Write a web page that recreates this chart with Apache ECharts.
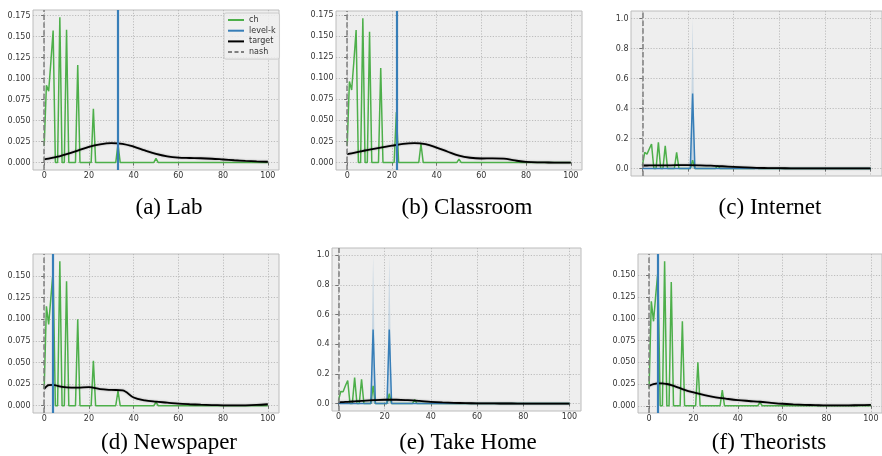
<!DOCTYPE html>
<html>
<head>
<meta charset="utf-8">
<script src="https://cdn.jsdelivr.net/npm/echarts@6/dist/echarts.min.js"></script>
<style>
  html, body { margin: 0; padding: 0; background: #ffffff; }
  #chart { width: 882px; height: 456px; }
</style>
</head>
<body>
<div id="chart"></div>
<script>
// Guesses 0..100; the cognitive-hierarchy (ch) prediction is non-zero only at these guesses
const chX = [0, 1, 2, 3, 4, 7, 10, 15, 22, 33, 50];
const chLab        = [0.020, 0.092, 0.085, 0.120, 0.157, 0.173, 0.158, 0.116, 0.064, 0.022, 0.005];
const chClassroom  = [0.020, 0.096, 0.086, 0.120, 0.157, 0.171, 0.155, 0.112, 0.060, 0.022, 0.004];
const chInternet   = [0.020, 0.107, 0.096, 0.130, 0.163, 0.174, 0.151, 0.107, 0.056, 0.018, 0.003];
const chNewspaper  = [0.020, 0.115, 0.094, 0.125, 0.156, 0.167, 0.144, 0.100, 0.052, 0.017, 0.004];
const chTakeHome   = [0.020, 0.082, 0.080, 0.120, 0.156, 0.176, 0.163, 0.120, 0.067, 0.027, 0.003];
const chTheorists  = [0.020, 0.120, 0.097, 0.127, 0.155, 0.166, 0.142, 0.097, 0.050, 0.018, 0.004];

// Smoothed density of the observed guesses (target)
const targetX = [0, 2, 4, 6, 8, 10, 15, 20, 25, 30, 35, 40, 45, 50, 55, 60, 65, 70, 75, 80, 85, 90, 95, 100];
const targetLab       = [0.0038, 0.0048, 0.0059, 0.0071, 0.0085, 0.0100, 0.0143, 0.0188, 0.0218, 0.0232, 0.0224, 0.0190, 0.0145, 0.0103, 0.0074, 0.0059, 0.0055, 0.0052, 0.0046, 0.0037, 0.0028, 0.0020, 0.0014, 0.0010];
const targetClassroom = [0.0099, 0.0110, 0.0121, 0.0132, 0.0143, 0.0153, 0.0177, 0.0200, 0.0222, 0.0230, 0.0218, 0.0178, 0.0128, 0.0082, 0.0057, 0.0048, 0.0050, 0.0046, 0.0025, 0.0008, 0.0002, 0.0001, 0.0000, 0.0000];
const targetInternet  = [0.0200, 0.0200, 0.0210, 0.0210, 0.0210, 0.0210, 0.0220, 0.0220, 0.0210, 0.0190, 0.0150, 0.0110, 0.0070, 0.0040, 0.0030, 0.0020, 0.0015, 0.0010, 0.0010, 0.0010, 0.0010, 0.0010, 0.0010, 0.0010];
const targetNewspaper = [0.0195, 0.0238, 0.0240, 0.0230, 0.0218, 0.0212, 0.0210, 0.0215, 0.0192, 0.0183, 0.0178, 0.0095, 0.0062, 0.0047, 0.0036, 0.0024, 0.0017, 0.0012, 0.0008, 0.0005, 0.0004, 0.0005, 0.0009, 0.0017];
const targetTakeHome  = [0.0080, 0.0100, 0.0120, 0.0140, 0.0160, 0.0180, 0.0230, 0.0260, 0.0260, 0.0230, 0.0180, 0.0120, 0.0080, 0.0050, 0.0030, 0.0020, 0.0010, 0.0007, 0.0005, 0.0003, 0.0002, 0.0001, 0.0001, 0.0001];
const targetTheorists = [0.0229, 0.0248, 0.0257, 0.0258, 0.0250, 0.0237, 0.0192, 0.0153, 0.0122, 0.0097, 0.0080, 0.0065, 0.0055, 0.0046, 0.0034, 0.0023, 0.0016, 0.0011, 0.0007, 0.0004, 0.0004, 0.0005, 0.0007, 0.0010];

// Level-k prediction: a single guess, or spikes (mean and upper bound of the band)
const levelkLab = 33;
const levelkClassroom = 22;
const levelkNewspaper = 4;
const levelkTheorists = 4;
const levelkInternetX = [22];
const levelkInternetMean = [0.5];
const levelkInternetUpper = [1.0];
const levelkTakeHomeX = [15, 22];
const levelkTakeHomeMean = [0.5, 0.5];
const levelkTakeHomeUpper = [1.0, 1.0];

// Nash equilibrium guess
const nashGuess = 0;

// Tick labels
const xTicks = [0, 20, 40, 60, 80, 100];
const yTicks175 = [0, 0.025, 0.05, 0.075, 0.1, 0.125, 0.15, 0.175];
const yTicks150 = [0, 0.025, 0.05, 0.075, 0.1, 0.125, 0.15];
const yTicksUnit = [0, 0.2, 0.4, 0.6, 0.8, 1.0];

const captions = ['(a) Lab', '(b) Classroom', '(c) Internet', '(d) Newspaper', '(e) Take Home', '(f) Theorists'];

// ---------------------------------------------------------------------------
const GREEN = '#4daf4a', BLUE = '#377eb8', GREY = '#7f7f7f';
const TICK_FONT = 'DejaVu Sans';

function fullGrid(xs, vals) {
  const out = [];
  for (let g = 0; g <= 100; g++) {
    const k = xs.indexOf(g);
    out.push([g, k >= 0 ? vals[k] : 0]);
  }
  return out;
}
function pairs(xs, ys) { return xs.map((x, k) => [x, ys[k]]); }

const panels = [
  { rect: [33, 10, 246, 160],  xlim: [-5, 105],   ylim: [-0.0088, 0.1815], yTicks: yTicks175, dec: 3, ch: chLab,       target: targetLab,       vline: levelkLab },
  { rect: [336, 11, 246, 159], xlim: [-5, 105],   ylim: [-0.0088, 0.1796], yTicks: yTicks175, dec: 3, ch: chClassroom, target: targetClassroom, vline: levelkClassroom },
  { rect: [631, 11, 254, 165], xlim: [-5, 105],   ylim: [-0.05, 1.05],     yTicks: yTicksUnit, dec: 1, ch: chInternet,  target: targetInternet,
    spikes: { x: levelkInternetX, mean: levelkInternetMean, upper: levelkInternetUpper }, hideXLabels: true },
  { rect: [33, 254, 246, 159], xlim: [-5, 105],   ylim: [-0.0084, 0.1754], yTicks: yTicks150, dec: 3, ch: chNewspaper, target: targetNewspaper, vline: levelkNewspaper },
  { rect: [332, 248, 249, 163], xlim: [-2.8, 105], ylim: [-0.05, 1.05],    yTicks: yTicksUnit, dec: 1, ch: chTakeHome,  target: targetTakeHome,
    spikes: { x: levelkTakeHomeX, mean: levelkTakeHomeMean, upper: levelkTakeHomeUpper } },
  { rect: [638, 254, 245, 159], xlim: [-5, 105],   ylim: [-0.0083, 0.1743], yTicks: yTicks150, dec: 3, ch: chTheorists, target: targetTheorists, vline: levelkTheorists }
];
const captionPos = [[169, 208], [467, 208], [770, 208], [169, 443], [468, 443], [769, 443]];

const grids = [], xAxes = [], yAxes = [], series = [], graphics = [];

panels.forEach((p, i) => {
  grids.push({
    left: p.rect[0], top: p.rect[1], width: p.rect[2], height: p.rect[3],
    show: true, backgroundColor: '#eeeeee', borderColor: '#bcbcbc', borderWidth: 1
  });
  const splitLine = { show: true, lineStyle: { color: '#b0b0b0', width: 0.8, type: [1.2, 1.6] } };
  xAxes.push({
    type: 'value', gridIndex: i, min: p.xlim[0], max: p.xlim[1],
    axisLine: { show: false },
    axisTick: { show: true, inside: false, length: 3, customValues: xTicks, lineStyle: { color: '#555', width: 0.8 } },
    axisLabel: { show: !p.hideXLabels, customValues: xTicks, fontSize: 8, color: '#333', fontFamily: TICK_FONT, margin: 1.5 },
    splitLine: splitLine
  });
  yAxes.push({
    type: 'value', gridIndex: i, min: p.ylim[0], max: p.ylim[1],
    axisLine: { show: false },
    axisTick: { show: true, inside: false, length: 3, customValues: p.yTicks, lineStyle: { color: '#555', width: 0.8 } },
    axisLabel: { customValues: p.yTicks, fontSize: 8, color: '#333', fontFamily: TICK_FONT, margin: 2.5,
      formatter: v => Number(v).toFixed(p.dec) },
    splitLine: splitLine
  });

  // ch
  series.push({
    name: 'ch', type: 'line', xAxisIndex: i, yAxisIndex: i, data: fullGrid(chX, p.ch),
    symbol: 'none', lineStyle: { color: GREEN, width: 1.5 }, itemStyle: { color: GREEN }, z: 2
  });

  // level-k
  if (p.spikes) {
    series.push({
      name: 'level-k band', type: 'line', xAxisIndex: i, yAxisIndex: i,
      data: fullGrid(p.spikes.x, p.spikes.upper), symbol: 'none',
      lineStyle: { width: 0, opacity: 0 }, areaStyle: { color: 'rgba(55,126,184,0.3)' }, z: 1
    });
    series.push({
      name: 'level-k', type: 'line', xAxisIndex: i, yAxisIndex: i,
      data: fullGrid(p.spikes.x, p.spikes.mean), symbol: 'none',
      lineStyle: { color: BLUE, width: 1.5 }, itemStyle: { color: BLUE }, z: 3
    });
  } else {
    series.push({
      name: 'level-k', type: 'line', xAxisIndex: i, yAxisIndex: i, data: [], symbol: 'none',
      lineStyle: { color: BLUE, width: 2 }, itemStyle: { color: BLUE }, z: 3,
      markLine: { silent: true, symbol: ['none', 'none'], label: { show: false },
        lineStyle: { color: BLUE, width: 2.2, type: 'solid' }, animation: false,
        data: [{ xAxis: p.vline }] }
    });
  }

  // target
  series.push({
    name: 'target', type: 'line', xAxisIndex: i, yAxisIndex: i, data: pairs(targetX, p.target),
    symbol: 'none', smooth: 0.35,
    lineStyle: { color: '#000', width: 1.8, shadowColor: 'rgba(0,0,0,0.35)', shadowBlur: 2 },
    itemStyle: { color: '#000' }, z: 4
  });

  // nash
  series.push({
    name: 'nash', type: 'line', xAxisIndex: i, yAxisIndex: i, data: [], symbol: 'none',
    lineStyle: { color: GREY, width: 1.5, type: [4, 2.5] }, itemStyle: { color: GREY }, z: 5,
    markLine: { silent: true, symbol: ['none', 'none'], label: { show: false },
      lineStyle: { color: GREY, width: 1.5, type: [5.5, 2.4] }, animation: false,
      data: [{ xAxis: nashGuess }] }
  });

  graphics.push({
    type: 'text', x: captionPos[i][0], y: captionPos[i][1],
    style: { text: captions[i], fontFamily: 'Liberation Serif', fontSize: 23, fill: '#000',
      align: 'center', verticalAlign: 'middle' }
  });
});

const chart = echarts.init(document.getElementById('chart'), null, { renderer: 'canvas' });
chart.setOption({
  animation: false,
  backgroundColor: '#ffffff',
  grid: grids,
  xAxis: xAxes,
  yAxis: yAxes,
  legend: {
    data: ['ch', 'level-k', 'target', 'nash'],
    orient: 'vertical', left: 224, top: 13,
    itemWidth: 16, itemHeight: 8, itemGap: 2.7,
    padding: [3, 4, 3, 3],
    backgroundColor: 'rgba(238,238,238,0.85)', borderColor: '#cccccc', borderWidth: 1, borderRadius: 2,
    itemStyle: { opacity: 0 },
    lineStyle: { width: 2 },
    textStyle: { fontSize: 8, color: '#333', fontFamily: TICK_FONT, padding: [0, 0, 0, 0] },
    selectedMode: false
  },
  series: series,
  graphic: graphics
});
</script>
</body>
</html>
